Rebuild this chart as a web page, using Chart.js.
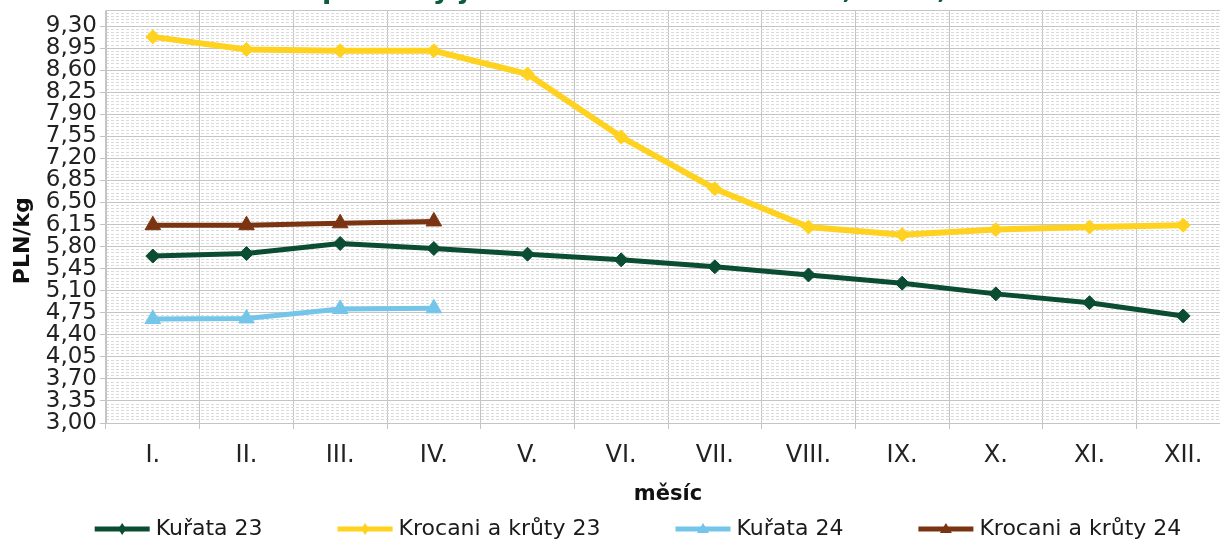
<!DOCTYPE html>
<html>
<head>
<meta charset="utf-8">
<title>Ceny drůbeže</title>
<script src="https://cdn.jsdelivr.net/npm/chart.js@4.4.1/dist/chart.umd.min.js"></script>
<style>
  html, body { margin: 0; padding: 0; background: #fff; overflow: hidden; }
  #wrap { position: relative; width: 1220px; height: 539px; overflow: hidden; }
  #chart { position: absolute; left: 0; top: -30px; }
</style>
</head>
<body>
<div id="wrap"><canvas id="chart" width="1250" height="579"></canvas></div>
<script>
// —––– Data ––––
const months = ['I.', 'II.', 'III.', 'IV.', 'V.', 'VI.', 'VII.', 'VIII.', 'IX.', 'X.', 'XI.', 'XII.'];
const kurata23   = [5.65, 5.69, 5.85, 5.77, 5.68, 5.59, 5.48, 5.35, 5.22, 5.05, 4.91, 4.70];
const krocani23  = [9.13, 8.93, 8.91, 8.91, 8.54, 7.54, 6.72, 6.11, 5.99, 6.07, 6.11, 6.14];
const kurata24   = [4.65, 4.66, 4.81, 4.82];
const krocani24  = [6.14, 6.14, 6.17, 6.20];
const yTicks = [3.00, 3.35, 3.70, 4.05, 4.40, 4.75, 5.10, 5.45, 5.80, 6.15, 6.50, 6.85, 7.20, 7.55, 7.90, 8.25, 8.60, 8.95, 9.30];
const yMin = 3.00, yMax = 9.55;

const FONT = '"DejaVu Sans", Verdana, sans-serif';
const GRID = '#c4c4c4';
const C = { green: '#0b4d32', yellow: '#ffd21f', blue: '#74c5ea', brown: '#7a3412' };

// —––– Axis titles (drawn off-centre like the original) ––––
const axisTitles = {
  id: 'axisTitles',
  afterDraw(chart) {
    const { ctx, chartArea: a } = chart;
    ctx.save();
    ctx.fillStyle = '#111';
    ctx.font = 'bold 21px ' + FONT;
    ctx.textAlign = 'center';
    ctx.textBaseline = 'alphabetic';
    ctx.fillText('měsíc', (a.left + a.right) / 2, a.bottom + 77);
    ctx.translate(29, (a.top + a.bottom) / 2 + 24);
    ctx.rotate(-Math.PI / 2);
    ctx.font = 'bold 22px ' + FONT;
    ctx.fillText('PLN/kg', 0, 0);
    ctx.restore();
  }
};

// legend: line + marker + text, in one row under the axis title
const lineLegend = {
  id: 'lineLegend',
  afterDraw(chart) {
    const { ctx, chartArea: a } = chart;
    const sets = chart.data.datasets;
    const lineW = 55, gapText = 6, gapItem = 75;
    ctx.save();
    ctx.font = '22px ' + FONT;
    const widths = sets.map(d => lineW + gapText + ctx.measureText(d.label).width);
    const total = widths.reduce((s, w) => s + w, 0) + gapItem * (sets.length - 1);
    let x = 638 - total / 2;
    const y = a.bottom + 106;
    sets.forEach((d, i) => {
      ctx.strokeStyle = d.borderColor;
      ctx.lineWidth = 5;
      ctx.beginPath(); ctx.moveTo(x, y); ctx.lineTo(x + lineW, y); ctx.stroke();
      const cx = x + lineW / 2;
      ctx.fillStyle = d.borderColor;
      ctx.beginPath();
      if (d.pointStyle === 'triangle') {
        ctx.moveTo(cx, y - 6); ctx.lineTo(cx + 6, y + 4); ctx.lineTo(cx - 6, y + 4);
      } else {
        ctx.moveTo(cx, y - 6); ctx.lineTo(cx + 4, y); ctx.lineTo(cx, y + 6); ctx.lineTo(cx - 4, y);
      }
      ctx.closePath(); ctx.fill();
      ctx.fillStyle = '#1a1a1a';
      ctx.textAlign = 'left'; ctx.textBaseline = 'middle';
      ctx.fillText(d.label, x + lineW + gapText, y);
      x += widths[i] + gapItem;
    });
    ctx.restore();
  }
};

function series(label, data, color, style, width) {
  return {
    label, data,
    borderColor: color, backgroundColor: color,
    borderWidth: width,
    pointStyle: style,
    pointRadius: style === 'triangle' ? 9 : 7,
    pointBorderWidth: 1,
    tension: 0
  };
}

new Chart(document.getElementById('chart').getContext('2d'), {
  type: 'line',
  data: {
    labels: months,
    datasets: [
      series('Kuřata 23', kurata23, C.green, 'rectRot', 5),
      series('Krocani a krůty 23', krocani23, C.yellow, 'rectRot', 6),
      series('Kuřata 24', kurata24, C.blue, 'triangle', 5),
      series('Krocani a krůty 24', krocani24, C.brown, 'triangle', 5)
    ]
  },
  options: {
    responsive: false,
    animation: false,
    events: [],
    layout: { padding: { left: 46, right: 20, top: 0, bottom: 0 } },
    plugins: {
      title: {
        display: true,
        text: 'Nákupní ceny jatečné drůbeže v Polsku, 2023, 2024',
        color: '#0d5c3a',
        font: { family: FONT, size: 27, weight: 'bold' },
        padding: { top: 5, bottom: 3 }
      },
      legend: { display: false },
      tooltip: { enabled: false }
    },
    scales: {
      x: {
        offset: true,
        grid: { offset: true, color: GRID, tickColor: GRID, tickLength: 6 },
        border: { color: GRID },
        ticks: { color: '#222', font: { family: FONT, size: 24 }, padding: 12, maxRotation: 0, autoSkip: false },
        afterFit: s => { s.height = 126; }
      },
      xTop: {
        position: 'top',
        grid: { display: false },
        border: { display: true, color: GRID },
        ticks: { display: false },
        afterFit: s => { s.height = 0; }
      },
      yMinor: {
        position: 'left',
        min: yMin, max: yMax,
        ticks: { display: false, stepSize: 0.05 },
        grid: { color: '#dadada', drawTicks: false, z: -1 },
        border: { display: false, dash: [3, 2] },
        afterFit: s => { s.width = 0; }
      },
      y: {
        position: 'left',
        min: yMin, max: yMax,
        afterBuildTicks: s => { s.ticks = yTicks.map(v => ({ value: v })); },
        ticks: {
          color: '#222',
          font: { family: FONT, size: 23 },
          padding: 3,
          autoSkip: false,
          callback: v => Number(v).toFixed(2).replace('.', ',')
        },
        grid: { color: GRID, tickColor: GRID, tickLength: 6 },
        border: { color: GRID },
        afterFit: s => { s.width = 60; }
      }
    }
  },
  plugins: [axisTitles, lineLegend]
});
</script>
</body>
</html>
